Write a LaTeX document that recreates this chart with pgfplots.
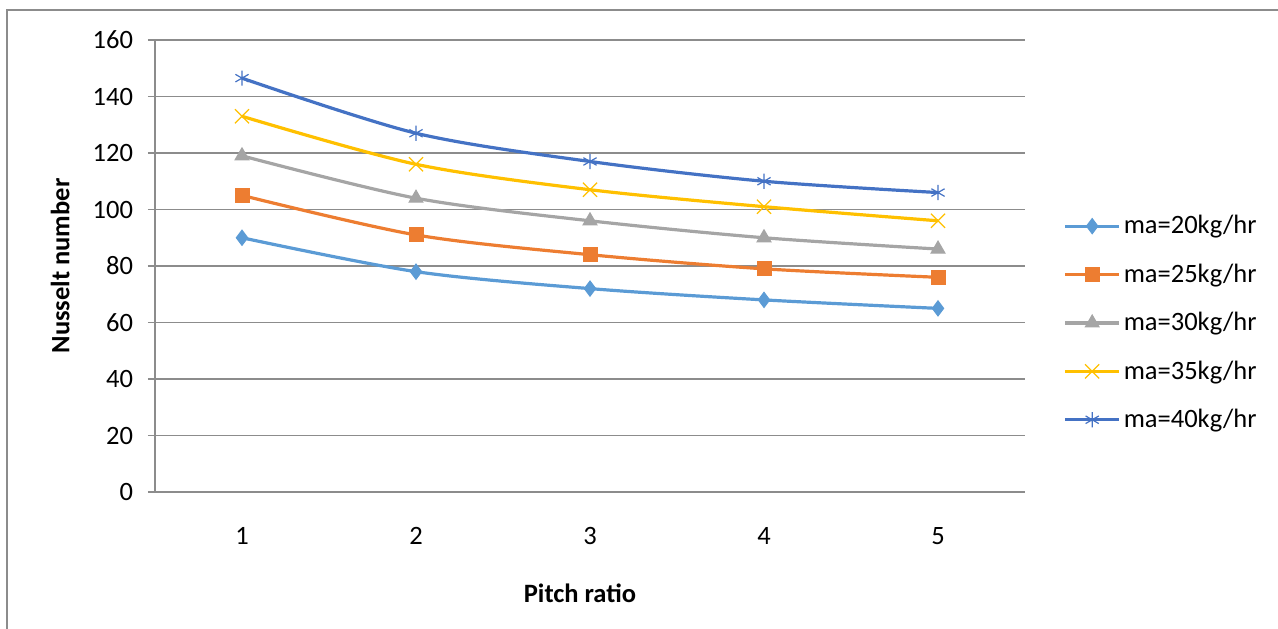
\documentclass[border=0pt]{standalone}
\usepackage{pgfplots}
\pgfplotsset{compat=1.18}
\usepackage{fontspec}
\setmainfont{Carlito}
\definecolor{c1}{HTML}{5B9BD5}
\definecolor{c2}{HTML}{ED7D31}
\definecolor{c3}{HTML}{A5A5A5}
\definecolor{c4}{HTML}{FFC000}
\definecolor{c5}{HTML}{4472C4}
\definecolor{gridc}{HTML}{8C8C8C}
\definecolor{framec}{HTML}{8C8C8C}
\newcommand{\fs}{\fontsize{13.25}{16}\selectfont}
\begin{document}
\begin{tikzpicture}[x=1pt,y=1pt]
\useasboundingbox (-77.5,-68) rectangle (561.5,246);
\begin{scope}
\clip (-77.5,-68) rectangle (561.5,246);
\draw[color=framec, line width=0.8pt] (-74,-120) rectangle (620,241);
\end{scope}
\begin{axis}[
  scale only axis,
  width=435pt, height=226pt,
  xmin=0.5, xmax=5.5, ymin=0, ymax=160,
  xtick={1,2,3,4,5}, ytick={0,20,...,160},
  axis x line*=bottom, axis y line*=left,
  axis line style={gridc, line width=0.8pt, -},
  ymajorgrids, major grid style={gridc, line width=0.8pt},
  tick align=outside,
  x tick style={draw=none},
  y tick style={gridc, line width=0.8pt},
  major tick length=3.5pt,
  /pgf/number format/assume math mode=true,
  tick label style={font=\fs, black},
  xticklabel style={yshift=-10.5pt},
  yticklabel style={xshift=-4pt},
  label style={font=\fs\bfseries, black},
  xlabel={Pitch ratio}, ylabel={Nusselt number},
  xlabel style={at={(axis description cs:0.4885,-0.2235)}, anchor=center},
  ylabel style={at={(axis description cs:-0.109,0.5)}, anchor=center},
  legend style={at={(axis description cs:1.037,0.374)}, anchor=west, draw=none, fill=none,
    font=\fs, row sep=10.5pt, nodes={inner sep=1.5pt}},
  legend cell align=left,
  legend image code/.code={\draw[mark repeat=2,mark phase=2] plot coordinates {(0pt,0pt)(13.5pt,0pt)(27pt,0pt)};},
  every axis plot/.append style={line width=1.6pt},
]
\addplot[c1, smooth, mark=diamond*, mark size=3.8pt, mark options={solid, fill=c1, line width=0.5pt}]
  coordinates {(1,90)(2,78)(3,72)(4,68)(5,65)};
\addlegendentry{ma=20kg/hr}
\addplot[c2, smooth, mark=square*, mark size=3.5pt, mark options={solid, fill=c2, line width=0.5pt}]
  coordinates {(1,105)(2,91)(3,84)(4,79)(5,76)};
\addlegendentry{ma=25kg/hr}
\addplot[c3, smooth, mark=triangle*, mark size=4pt, mark options={solid, fill=c3, line width=0.5pt}]
  coordinates {(1,119)(2,104)(3,96)(4,90)(5,86)};
\addlegendentry{ma=30kg/hr}
\addplot[c4, smooth, mark=x, mark size=5pt, mark options={solid, line width=0.6pt}]
  coordinates {(1,133)(2,116)(3,107)(4,101)(5,96)};
\addlegendentry{ma=35kg/hr}
\addplot[c5, smooth, mark=asterisk, mark size=3.8pt, mark options={solid, line width=0.6pt}]
  coordinates {(1,146.5)(2,127)(3,117)(4,110)(5,106)};
\addlegendentry{ma=40kg/hr}
\end{axis}
\end{tikzpicture}
\end{document}
